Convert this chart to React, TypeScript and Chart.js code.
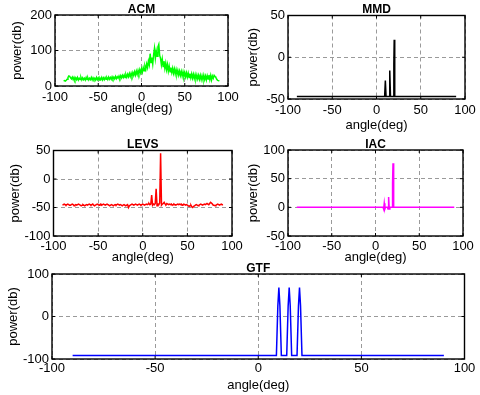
import React, { useEffect, useRef } from 'react';
import { Chart, registerables } from 'chart.js';

Chart.register(...registerables);

// ---------- data ----------
const X_TICK_MIN = -100;
const X_TICK_MAX = 100;
const X_TICK_STEP = 50;

// sampling grid for the noisy spectra: -90 .. 90 deg, 1 deg apart
const GRID_ANGLES: number[] = Array.from({ length: 181 }, (_, i) => i - 90);

const ACM_POWER = [
  14, 15, 14, 16, 19, 24, 28, 27, 23, 20,
  25, 18, 24, 17, 23, 18, 24, 17, 22, 18,
  24, 17, 23, 18, 22, 17, 24, 18, 23, 17,
  22, 18, 24, 17, 23, 18, 22, 17, 24, 18,
  23, 17, 22, 18, 24, 17, 23, 18, 24, 19,
  23, 18, 25, 19, 24, 19, 26, 20, 25, 20,
  27, 21, 26, 22, 28, 22, 29, 23, 30, 24,
  31, 24, 32, 25, 33, 26, 35, 27, 36, 28,
  38, 30, 40, 31, 42, 33, 44, 35, 46, 37,
  48, 39, 52, 43, 56, 47, 62, 52, 70, 60,
  91, 66, 80, 62, 88, 106, 78, 98, 84, 110,
  117, 86, 78, 60, 76, 55, 70, 50, 64, 46,
  60, 42, 56, 40, 52, 38, 50, 36, 48, 34,
  46, 33, 44, 31, 42, 30, 41, 28, 40, 27,
  38, 26, 37, 25, 36, 24, 35, 23, 34, 22,
  33, 21, 32, 20, 31, 20, 30, 19, 30, 18,
  29, 18, 30, 18, 28, 17, 29, 20, 31, 18,
  30, 17, 28, 22, 30, 27, 24, 19, 16, 15,
  14,
];

const LEVS_POWER = [
  -45, -45, -44, -45, -46, -45, -44, -45, -46, -46,
  -45, -44, -45, -47, -46, -45, -46, -45, -44, -45,
  -46, -47, -46, -45, -46, -47, -46, -45, -46, -45,
  -44, -45, -46, -45, -44, -46, -47, -46, -45, -44,
  -45, -46, -45, -44, -46, -45, -44, -45, -46, -45,
  -44, -45, -46, -47, -46, -45, -46, -47, -46, -45,
  -46, -45, -44, -45, -46, -45, -46, -47, -46, -45,
  -46, -47, -46, -45, -50, -47, -46, -45, -44, -45,
  -46, -45, -44, -45, -46, -45, -44, -45, -46, -45,
  -44, -45, -46, -45, -44, -45, -44, -43, -45, -44,
  -28, -46, -44, -45, -43, -17, -47, -44, -45, -42,
  45, -46, -44, -43, -41, -44, -45, -43, -44, -45,
  -44, -45, -44, -46, -45, -44, -45, -46, -45, -44,
  -45, -44, -45, -44, -46, -45, -44, -45, -46, -45,
  -46, -47, -48, -47, -46, -49, -50, -48, -47, -46,
  -45, -46, -47, -46, -45, -44, -45, -46, -45, -44,
  -45, -44, -43, -44, -45, -43, -41, -42, -44, -46,
  -46, -47, -46, -45, -44, -45, -46, -45, -44, -45,
  -45,
];

const MMD_ANGLES = [-90, 9.2, 10, 10.8, 14.2, 15, 15.8, 19.2, 19.6, 20, 20.4, 20.8, 90];
const MMD_POWER = [-47, -47, -28, -47, -47, -16, -47, -47, -8, 21, -4, -47, -47];

const IAC_ANGLES = [-90, 8.6, 9.3, 10, 10.7, 11.4, 13.6, 14.3, 15, 15.7, 16.4, 19.0, 19.5, 20, 20.5, 21, 90];
const IAC_POWER = [0, 0, -3, 7, -3, 0, 0, -3, 18, -3, 0, 0, 43, 77, 35, 0, 0];

const GTF_ANGLES = [-90, 8.8, 9.5, 10, 10.5, 11.2, 13.8, 14.5, 15, 15.5, 16.2, 18.8, 19.5, 20, 20.5, 21.2, 90];
const GTF_POWER = [-92, -92, 25, 68, 25, -92, -92, 25, 68, 25, -92, -92, 25, 68, 25, -92, -92];

// ---------- layout / style ----------
const W = 480;
const H = 395;
const FONT = '"Liberation Sans", Arial, Helvetica, sans-serif';
const TICK_SIZE = 13;
const LH = TICK_SIZE * 1.2;
const TITLE_LH = 11;

type Panel = {
  title: string;
  color: string;
  xs: number[];
  ys: number[];
  yMin: number;
  yMax: number;
  yStep: number;
  l: number; r: number; t: number; b: number;
  xTickY: number;
  xLabelY: number;
  yLabelX: number;
};

const PANELS: Panel[] = [
  { title: 'ACM', color: '#00ff00', xs: GRID_ANGLES, ys: ACM_POWER, yMin: 0, yMax: 200, yStep: 100,
    l: 55, r: 228, t: 15, b: 86, xTickY: 97, xLabelY: 108, yLabelX: 17 },
  { title: 'MMD', color: '#000000', xs: MMD_ANGLES, ys: MMD_POWER, yMin: -50, yMax: 50, yStep: 50,
    l: 288, r: 465, t: 15.5, b: 99, xTickY: 110, xLabelY: 125.5, yLabelX: 253 },
  { title: 'LEVS', color: '#ff0000', xs: GRID_ANGLES, ys: LEVS_POWER, yMin: -100, yMax: 50, yStep: 50,
    l: 53.5, r: 232, t: 150.5, b: 236, xTickY: 246.7, xLabelY: 257.5, yLabelX: 15 },
  { title: 'IAC', color: '#ff00ff', xs: IAC_ANGLES, ys: IAC_POWER, yMin: -50, yMax: 100, yStep: 50,
    l: 288, r: 463, t: 150, b: 236, xTickY: 246.7, xLabelY: 257.5, yLabelX: 253 },
  { title: 'GTF', color: '#0000ff', xs: GTF_ANGLES, ys: GTF_POWER, yMin: -100, yMax: 100, yStep: 100,
    l: 52, r: 464.5, t: 274, b: 359, xTickY: 368.3, xLabelY: 385, yLabelX: 13.5 },
];

const framePlugin = {
  id: 'matlabFrame',
  afterDatasetsDraw(chart: any) {
    const { ctx, chartArea } = chart;
    const { left, right, top, bottom } = chartArea;
    ctx.save();
    ctx.strokeStyle = '#000';
    ctx.lineWidth = 1;
    const tl = 3;
    const xs = chart.scales.x;
    const ys = chart.scales.y;
    ctx.beginPath();
    xs.ticks.forEach((tk: any) => {
      const px = xs.getPixelForValue(tk.value);
      ctx.moveTo(px, bottom); ctx.lineTo(px, bottom - tl);
      ctx.moveTo(px, top); ctx.lineTo(px, top + tl);
    });
    ys.ticks.forEach((tk: any) => {
      const py = ys.getPixelForValue(tk.value);
      ctx.moveTo(left, py); ctx.lineTo(left + tl, py);
      ctx.moveTo(right, py); ctx.lineTo(right - tl, py);
    });
    ctx.stroke();
    ctx.lineWidth = 1.4;
    ctx.strokeRect(left, top, right - left, bottom - top);
    ctx.restore();
  },
};

function PanelChart({ p }: { p: Panel }) {
  const ref = useRef<HTMLCanvasElement | null>(null);
  useEffect(() => {
    if (!ref.current) return;
    const padLeft = p.yLabelX - LH / 2;
    const yWidth = p.l - padLeft;
    const xHeight = p.xLabelY + LH / 2 - p.b;
    const padBottom = H - p.b - xHeight;
    const padTop = p.t - TITLE_LH;
    const padRight = W - p.r;
    const xTickPad = p.xTickY - p.b - LH / 2;

    const chart = new Chart(ref.current, {
      type: 'line',
      data: {
        datasets: [
          {
            data: p.xs.map((x, i) => ({ x, y: p.ys[i] })),
            borderColor: p.color,
            backgroundColor: p.color,
            borderWidth: 1.5,
            pointRadius: 0,
            tension: 0,
            fill: false,
          },
        ],
      },
      options: {
        animation: false,
        responsive: false,
        maintainAspectRatio: false,
        events: [],
        layout: { padding: { left: padLeft, right: padRight, top: padTop, bottom: padBottom } },
        plugins: {
          legend: { display: false },
          tooltip: { enabled: false },
          title: {
            display: true,
            text: p.title,
            fullSize: false,
            color: '#000',
            padding: 0,
            font: { family: FONT, size: 12, weight: 'bold', lineHeight: TITLE_LH / 12 },
          },
        },
        scales: {
          x: {
            type: 'linear',
            min: X_TICK_MIN,
            max: X_TICK_MAX,
            afterFit: (s: any) => {
              s.height = xHeight;
              s.paddingLeft = 0; s.paddingRight = 0; s.paddingTop = 0; s.paddingBottom = 0;
            },
            ticks: {
              stepSize: X_TICK_STEP,
              autoSkip: false,
              maxRotation: 0,
              padding: xTickPad,
              color: '#000',
              font: { family: FONT, size: TICK_SIZE },
            },
            grid: { color: '#9a9a9a', lineWidth: 1, drawTicks: false },
            border: { display: false, dash: [4, 3] },
            title: {
              display: true,
              text: 'angle(deg)',
              color: '#000',
              padding: 0,
              font: { family: FONT, size: TICK_SIZE },
            },
          },
          y: {
            type: 'linear',
            min: p.yMin,
            max: p.yMax,
            afterFit: (s: any) => {
              s.width = yWidth;
              s.paddingLeft = 0; s.paddingRight = 0; s.paddingTop = 0; s.paddingBottom = 0;
            },
            ticks: {
              stepSize: p.yStep,
              autoSkip: false,
              padding: 3,
              color: '#000',
              font: { family: FONT, size: TICK_SIZE },
            },
            grid: { color: '#9a9a9a', lineWidth: 1, drawTicks: false },
            border: { display: false, dash: [4, 3] },
            title: {
              display: true,
              text: 'power(db)',
              color: '#000',
              padding: 0,
              font: { family: FONT, size: TICK_SIZE },
            },
          },
        },
      } as any,
      plugins: [framePlugin],
    });
    return () => chart.destroy();
  }, [p]);
  return (
    <canvas
      ref={ref}
      width={W}
      height={H}
      style={{ position: 'absolute', left: 0, top: 0, width: W, height: H }}
    />
  );
}

export default function App() {
  return (
    <div style={{ position: 'absolute', left: 0, top: 0, width: W, height: H, background: '#fff' }}>
      {PANELS.map((p) => (
        <PanelChart key={p.title} p={p} />
      ))}
    </div>
  );
}
